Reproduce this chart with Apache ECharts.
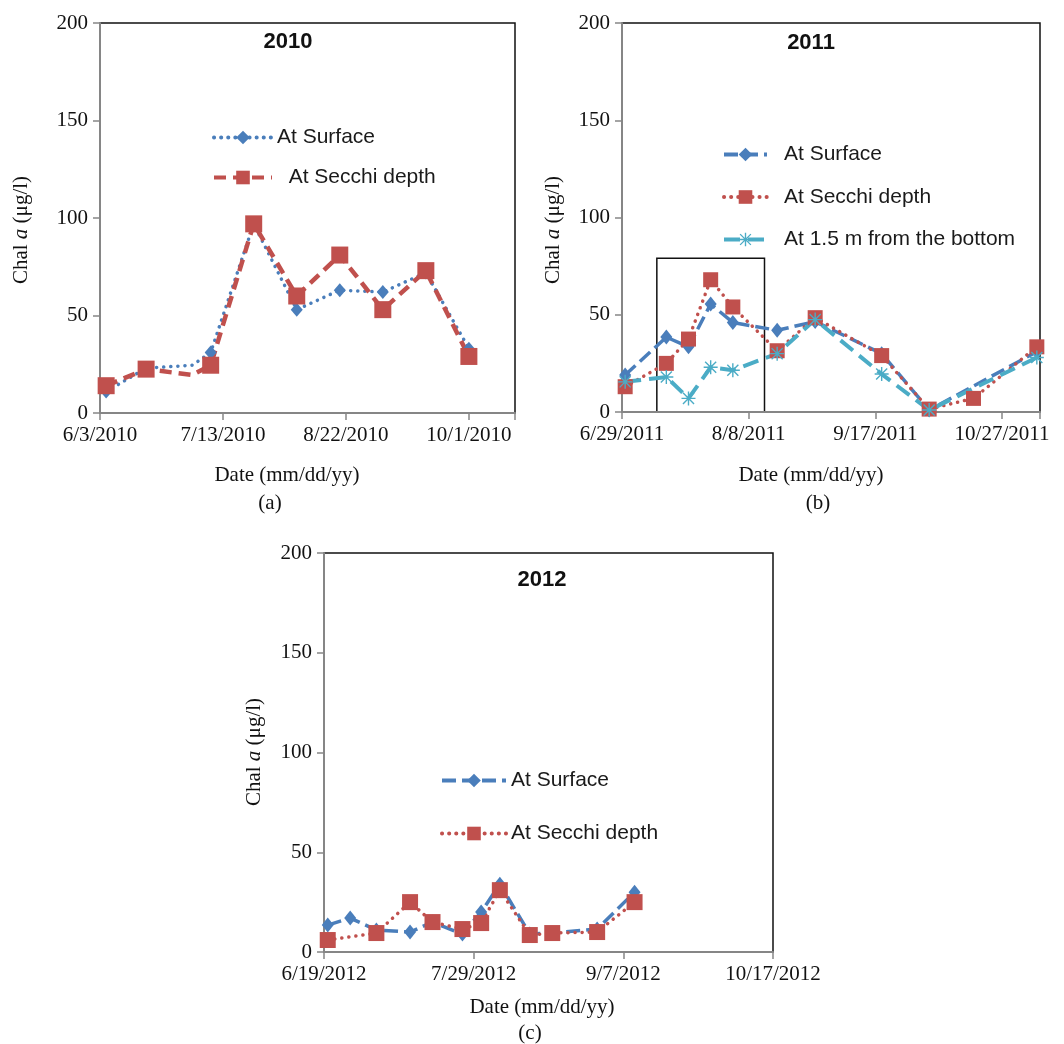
<!DOCTYPE html>
<html><head><meta charset="utf-8">
<script src="https://cdn.jsdelivr.net/npm/echarts@6/dist/echarts.min.js"></script>
<style>html,body{margin:0;padding:0;background:#fff}#c{width:1064px;height:1044px}</style>
</head><body><div id="c"></div>
<script>
// ---------- data ----------
// Panel (a) 2010
const datesA   = ['2010-06-05','2010-06-18','2010-07-03','2010-07-09','2010-07-23','2010-08-06','2010-08-20','2010-09-03','2010-09-17','2010-10-01'];
const surfaceA = [11, 23, 24.5, 31, 97, 53, 63, 62, 72, 33];
const secchiA  = [14, 22.5, 19.5, 24.5, 97, 60, 81, 53, 73, 29];
// Panel (b) 2011
const datesB   = ['2011-06-30','2011-07-13','2011-07-20','2011-07-27','2011-08-03','2011-08-17','2011-08-29','2011-09-19','2011-10-04','2011-10-18','2011-11-07'];
const surfaceB = [19, 38.5, 33.5, 55.5, 46, 42, 46.5, 30, 1, null, 31];
const secchiB  = [13, 25, 37.5, 68, 54, 31.5, 48.5, 29, 1.5, 7, 33.5];
const bottomB  = [15.5, 18, 7, 23, 21.5, 30, 47.5, 19.5, 1, null, 28];
const boxB     = ['2011-07-10', '2011-08-13', 0, 79];
// Panel (c) 2012
const datesC   = ['2012-06-20','2012-06-26','2012-07-03','2012-07-12','2012-07-18','2012-07-26','2012-07-31','2012-08-05','2012-08-13','2012-08-19','2012-08-31','2012-09-10'];
const surfaceC = [13.5, 17, 11, 10, 15, 9, 20, 34, 9, 9.5, 11.5, 30];
const secchiC  = [6, null, 9.5, 25, 15, 11.5, 14.5, 31, 8.5, 9.5, 10, 25];
// axes
const axisStart = ['2010-06-03', '2011-06-29', '2012-06-19'];
const axisEnd   = ['2010-10-16', '2011-11-08', '2012-10-17'];
const xTickDays = 40;
const yMin = 0, yMax = 200, yStep = 50;
const titles = ['2010', '2011', '2012'];
const subLabels = ['(a)', '(b)', '(c)'];
const LABELS = {aS:'At Surface', aD:'  At Secchi depth', bS:'At Surface', bD:'At Secchi depth', bB:'At 1.5 m from the bottom', cS:'At Surface', cD:'At Secchi depth'};

// ---------- helpers ----------
const SERIF = '"Liberation Serif","Times New Roman",serif';
const SANS = '"Liberation Sans",Arial,sans-serif';
const BLUE = '#4A7EBB', RED = '#C0504D', CYAN = '#4BACC6', AXIS = '#868686';
function utc(s){ const p = s.split('-').map(Number); return Date.UTC(p[0], p[1]-1, p[2]); }
function dayOff(s, base){ return Math.round((utc(s) - utc(base)) / 864e5); }
function fmtDate(base, d){ const t = new Date(utc(base) + d*864e5); return (t.getUTCMonth()+1) + '/' + t.getUTCDate() + '/' + t.getUTCFullYear(); }
function pts(dates, vals, base){ return dates.map((d,i)=>[dayOff(d, base), vals[i]]); }

const grids = [
  {left:100, top:23, width:415, height:390},
  {left:622, top:23, width:418, height:389},
  {left:324, top:553, width:449, height:399}
].map(g => Object.assign(g, {show:true, borderColor:'#111', borderWidth:1.5, backgroundColor:'transparent'}));

const xAxes = [0,1,2].map(i => ({
  gridIndex:i, type:'value', min:0, max:dayOff(axisEnd[i], axisStart[i]), interval:xTickDays, z:3,
  axisLine:{show:true, onZero:false, lineStyle:{color:AXIS, width:2}},
  axisTick:{show:true, length:7, lineStyle:{color:AXIS, width:1.5}},
  axisLabel:{color:'#111', fontSize:21, fontFamily:SERIF, margin:12,
    formatter: v => (v % xTickDays === 0 ? fmtDate(axisStart[i], v) : '')},
  splitLine:{show:false}
}));
const yAxes = [0,1,2].map(i => ({
  gridIndex:i, type:'value', min:yMin, max:yMax, interval:yStep, z:3,
  axisLine:{show:true, lineStyle:{color:AXIS, width:2}},
  axisTick:{show:true, length:7, lineStyle:{color:AXIS, width:1.5}},
  axisLabel:{color:'#111', fontSize:21, fontFamily:SERIF, margin:12},
  splitLine:{show:false}
}));

function line(name, gi, data, color, dash, width, symbol, size, extra){
  return Object.assign({
    name, type:'line', xAxisIndex:gi, yAxisIndex:gi, data, connectNulls:true,
    symbol, symbolSize:size, showAllSymbol:true,
    lineStyle:{color, width, type:dash, cap: 'round'},
    itemStyle:{color, borderWidth:0}, emphasis:{disabled:true}
  }, extra || {});
}
const DOT = [0.1, 7];
const ASTER = 'path://M0,9L20,9L20,11L0,11Z M9,0L11,0L11,20L9,20Z M1.4,2.8L2.8,1.4L18.6,17.2L17.2,18.6Z M17.2,1.4L18.6,2.8L2.8,18.6L1.4,17.2Z';

const series = [
  line('aS', 0, pts(datesA, surfaceA, axisStart[0]), BLUE, DOT, 3.5, 'diamond', (v,p)=> p.dataIndex===2 ? 0 : [12,14]),
  line('aD', 0, pts(datesA, secchiA, axisStart[0]), RED, [12,7], 4, 'rect', (v,p)=> p.dataIndex===2 ? 0 : 17, {lineStyle:{color:RED, width:4.5, type:[12,7], cap:'butt'}}),
  line('bS', 1, pts(datesB, surfaceB, axisStart[1]), BLUE, [14,6], 3.5, 'diamond', [12,15], {lineStyle:{color:BLUE, width:3.5, type:[14,6], cap:'butt'}}),
  line('bD', 1, pts(datesB, secchiB, axisStart[1]), RED, DOT, 3.5, 'rect', 15),
  line('bB', 1, pts(datesB, bottomB, axisStart[1]), CYAN, [16,8], 4, ASTER, 14, {lineStyle:{color:CYAN, width:4, type:[16,8], cap:'butt'},
    markArea:{silent:true, itemStyle:{color:'rgba(0,0,0,0)', borderColor:'#111', borderWidth:1.5},
      data:[[{xAxis:dayOff(boxB[0], axisStart[1]), yAxis:boxB[3]}, {xAxis:dayOff(boxB[1], axisStart[1]), yAxis:boxB[2]}]]}}),
  line('cS', 2, pts(datesC, surfaceC, axisStart[2]), BLUE, [14,6], 3.5, 'diamond', [12,15], {lineStyle:{color:BLUE, width:3.5, type:[14,6], cap:'butt'}}),
  line('cD', 2, pts(datesC, secchiC, axisStart[2]), RED, DOT, 3.5, 'rect', 16)
];

function legend(names, left, top, iw, gap, pad){
  return {data:names, left, top, orient:'vertical', itemWidth:iw, itemHeight:17, itemGap:gap,
    formatter: n => LABELS[n], selectedMode:false,
    lineStyle:{width:4},
    textStyle:{fontFamily:SANS, fontSize:21, color:'#1a1a1a', padding:[0,0,0,pad]}};
}

function txt(text, x, y, font, extra){
  return Object.assign({type:'text', x, y, style:{text, font, fill:'#111', textAlign:'center', textVerticalAlign:'middle'}}, extra||{});
}
function yName(x, y){
  return {type:'text', x, y, rotation:Math.PI/2,
    style:{text:'{n|Chal }{i|a}{n| (μg/l)}', textAlign:'center', textVerticalAlign:'middle', fill:'#111',
      rich:{n:{fontFamily:SERIF, fontSize:21, fill:'#111'}, i:{fontFamily:SERIF, fontSize:21, fontStyle:'italic', fill:'#111'}}}};
}
const TITLE = 'bold 22px ' + SANS, SER = '21px ' + SERIF;
const graphic = [
  txt(titles[0], 288, 42, TITLE), txt(titles[1], 811, 43, TITLE), txt(titles[2], 542, 580, TITLE),
  txt('Date (mm/dd/yy)', 287, 475, SER), txt('Date (mm/dd/yy)', 811, 475, SER), txt('Date (mm/dd/yy)', 542, 1007, SER),
  txt(subLabels[0], 270, 503, SER), txt(subLabels[1], 818, 503, SER), txt(subLabels[2], 530, 1033, SER),
  yName(21, 230), yName(553, 230), yName(254, 752)
];

const chart = echarts.init(document.getElementById('c'), null, {renderer:'canvas'});
chart.setOption({
  animation:false, backgroundColor:'#fff',
  grid:grids, xAxis:xAxes, yAxis:yAxes, series,
  legend:[legend(['aS','aD'], 207, 122, 58, 19, 0), legend(['bS','bD','bB'], 717, 139, 43, 21.5, 12), legend(['cS','cD'], 435, 765, 64, 32, 0)],
  graphic
});
</script></body></html>
